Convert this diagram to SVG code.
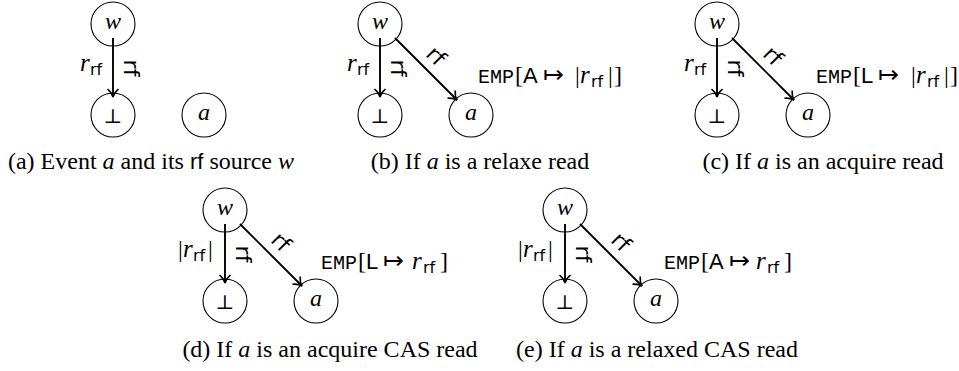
<svg xmlns="http://www.w3.org/2000/svg" width="959" height="371" viewBox="0 0 959 371">
<defs>
<style>
.c{fill:#fff;stroke:#000;stroke-width:1.1}
.e{stroke:#000;stroke-width:1.9;fill:none;marker-end:url(#ar)}
.mi{font-family:"Liberation Serif",serif;font-style:italic;font-size:24px;text-anchor:middle}
.bot{font-family:"DejaVu Serif",serif;font-size:20px;text-anchor:middle}
.sfl{font-family:"DejaVu Sans",sans-serif;font-size:22px;text-anchor:middle;dominant-baseline:central}
.lab{font-family:"Liberation Serif",serif;font-size:24px}
.mr{font-family:"Liberation Serif",serif;font-style:italic;font-size:25px}
.sub{font-family:"DejaVu Sans",sans-serif;font-size:16px;font-style:normal}
.tt{font-family:"Liberation Mono",monospace;font-size:20px}
.sa{font-family:"Liberation Sans",sans-serif;font-size:22px}
.mt{font-family:"DejaVu Sans",sans-serif;font-size:25px;font-weight:200}
.it{font-style:italic}
.cap{font-family:"Liberation Serif",serif;font-size:24px;text-anchor:middle}
.capsf{font-family:"Liberation Sans",sans-serif;font-size:22px}
</style>
<marker id="ar" markerUnits="userSpaceOnUse" markerWidth="16" markerHeight="16" viewBox="-10 -8 12 16" refX="0" refY="0" orient="auto">
<path d="M-8,-5.5 C-5,-2 -2,-0.5 0,0 C-2,0.5 -5,2 -8,5.5" fill="none" stroke="#000" stroke-width="1.6"/>
</marker>
</defs>

<!-- Panel (a) -->
<g id="a-w"><circle class="c" cx="113" cy="24" r="22"/><text class="mi" x="113" y="29">w</text></g>
<g id="a-bot"><circle class="c" cx="113" cy="115" r="22"/><text class="bot" x="113" y="123">⊥</text></g>
<g id="a-a"><circle class="c" cx="204" cy="115" r="22"/><text class="mi" x="204" y="120">a</text></g>

<!-- Panel (b) -->
<g id="b-w"><circle class="c" cx="380" cy="24" r="22"/><text class="mi" x="380" y="29">w</text></g>
<g id="b-bot"><circle class="c" cx="380" cy="115" r="22"/><text class="bot" x="380" y="123">⊥</text></g>
<g id="b-a"><circle class="c" cx="471" cy="115" r="22"/><text class="mi" x="471" y="120">a</text></g>

<!-- Panel (c) -->
<g id="c-w"><circle class="c" cx="717" cy="24" r="22"/><text class="mi" x="717" y="29">w</text></g>
<g id="c-bot"><circle class="c" cx="717" cy="115" r="22"/><text class="bot" x="717" y="123">⊥</text></g>
<g id="c-a"><circle class="c" cx="808" cy="115" r="22"/><text class="mi" x="808" y="120">a</text></g>

<!-- Panel (d) -->
<g id="d-w"><circle class="c" cx="225" cy="210" r="22"/><text class="mi" x="225" y="215">w</text></g>
<g id="d-bot"><circle class="c" cx="225" cy="301" r="22"/><text class="bot" x="225" y="309">⊥</text></g>
<g id="d-a"><circle class="c" cx="316" cy="301" r="22"/><text class="mi" x="316" y="306">a</text></g>

<!-- Panel (e) -->
<g id="e-w"><circle class="c" cx="565" cy="210" r="22"/><text class="mi" x="565" y="215">w</text></g>
<g id="e-bot"><circle class="c" cx="565" cy="301" r="22"/><text class="bot" x="565" y="309">⊥</text></g>
<g id="e-a"><circle class="c" cx="656" cy="301" r="22"/><text class="mi" x="656" y="306">a</text></g>

<g id="connectors">
<path class="e" d="M113,38 L113,97"/>
<text class="sfl" transform="translate(131,68) rotate(90)">rf</text>

<path class="e" d="M380,38 L380,97"/>
<text class="sfl" transform="translate(398,68) rotate(90)">rf</text>
<path class="e" d="M395,38 L457,100"/>
<text class="sfl" transform="translate(436,56) rotate(45)">rf</text>

<path class="e" d="M717,38 L717,97"/>
<text class="sfl" transform="translate(735,68) rotate(90)">rf</text>
<path class="e" d="M732,38 L794,100"/>
<text class="sfl" transform="translate(773,56) rotate(45)">rf</text>

<path class="e" d="M225,224 L225,283"/>
<text class="sfl" transform="translate(243,254) rotate(90)">rf</text>
<path class="e" d="M240,224 L302,286"/>
<text class="sfl" transform="translate(281,242) rotate(45)">rf</text>

<path class="e" d="M565,224 L565,283"/>
<text class="sfl" transform="translate(583,254) rotate(90)">rf</text>
<path class="e" d="M580,224 L642,286"/>
<text class="sfl" transform="translate(621,242) rotate(45)">rf</text>
</g>

<g id="labels">
<text class="lab"><tspan class="mr" x="80" y="71">r</tspan><tspan class="sub" x="90" y="75">rf</tspan></text>
<text class="lab"><tspan class="mr" x="347" y="71">r</tspan><tspan class="sub" x="357" y="75">rf</tspan></text>
<text class="lab"><tspan class="mr" x="684" y="71">r</tspan><tspan class="sub" x="694" y="75">rf</tspan></text>
<text class="lab"><tspan x="178" y="257">|</tspan><tspan class="mr" x="183" y="257">r</tspan><tspan class="sub" x="193" y="261">rf</tspan><tspan x="208" y="257">|</tspan></text>
<text class="lab"><tspan x="518" y="257">|</tspan><tspan class="mr" x="523" y="257">r</tspan><tspan class="sub" x="533" y="261">rf</tspan><tspan x="548" y="257">|</tspan></text>
</g>

<g id="emp">
<text class="lab"><tspan class="tt" x="478" y="83">EMP</tspan><tspan x="515" y="83">[</tspan><tspan class="sa" x="523" y="83">A</tspan><tspan class="mt" x="543" y="83">↦</tspan><tspan x="575" y="83">|</tspan><tspan class="mr" x="580" y="83">r</tspan><tspan class="sub" x="591" y="87">rf</tspan><tspan x="608" y="83">|</tspan><tspan x="614" y="83">]</tspan></text>
<text class="lab"><tspan class="tt" x="816" y="83">EMP</tspan><tspan x="853" y="83">[</tspan><tspan class="sa" x="861" y="83">L</tspan><tspan class="mt" x="878" y="83">↦</tspan><tspan x="911" y="83">|</tspan><tspan class="mr" x="916" y="83">r</tspan><tspan class="sub" x="927" y="87">rf</tspan><tspan x="944" y="83">|</tspan><tspan x="950" y="83">]</tspan></text>
<text class="lab"><tspan class="tt" x="321" y="269">EMP</tspan><tspan x="358" y="269">[</tspan><tspan class="sa" x="366" y="269">L</tspan><tspan class="mt" x="383" y="269">↦</tspan><tspan class="mr" x="412" y="269">r</tspan><tspan class="sub" x="423" y="273">rf</tspan><tspan x="440" y="269">]</tspan></text>
<text class="lab"><tspan class="tt" x="664" y="269">EMP</tspan><tspan x="701" y="269">[</tspan><tspan class="sa" x="709" y="269">A</tspan><tspan class="mt" x="729" y="269">↦</tspan><tspan class="mr" x="756" y="269">r</tspan><tspan class="sub" x="767" y="273">rf</tspan><tspan x="784" y="269">]</tspan></text>
</g>

<g id="captions">
<text class="cap" x="151" y="169">(a) Event <tspan class="it">a</tspan> and its <tspan class="capsf">rf</tspan> source <tspan class="it">w</tspan></text>
<text class="cap" x="480" y="169">(b) If <tspan class="it">a</tspan> is a relaxe read</text>
<text class="cap" x="823" y="169">(c) If <tspan class="it">a</tspan> is an acquire read</text>
<text class="cap" x="330" y="357">(d) If <tspan class="it">a</tspan> is an acquire CAS read</text>
<text class="cap" x="657" y="357">(e) If <tspan class="it">a</tspan> is a relaxed CAS read</text>
</g>
</svg>
